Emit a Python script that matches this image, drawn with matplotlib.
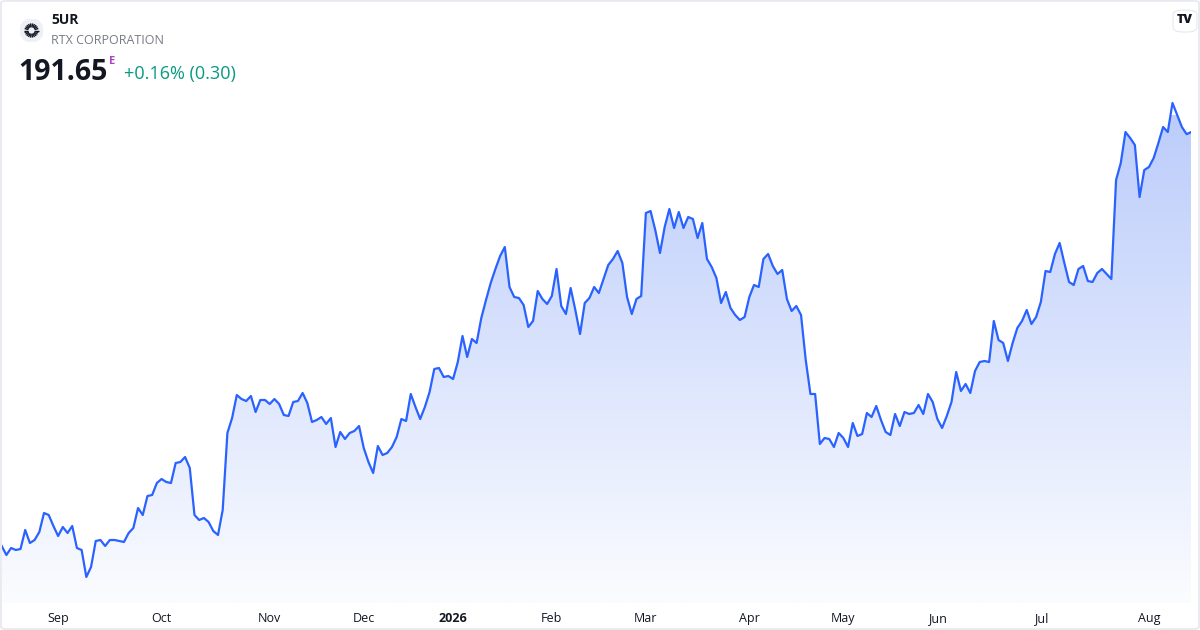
### Module Import Section ###
import numpy as np
import pandas as pd
import matplotlib
matplotlib.use('Agg')
import matplotlib.pyplot as plt
from matplotlib.colors import LinearSegmentedColormap
from matplotlib.patches import Polygon, Circle, FancyBboxPatch
#############################

plt.rcParams['font.family'] = ['Open Sans', 'DejaVu Sans']

# header texts
ticker = '5UR'
company = 'RTX CORPORATION'
last_price = '191.65'
change_text = '+0.16% (0.30)'

# Xetra holidays inside the window (no trading)
holidays = ['2025-12-24', '2025-12-25', '2025-12-26', '2025-12-31',
            '2026-01-01', '2026-04-03', '2026-04-06', '2026-05-01']

# daily closes, EUR
prices = [
    133.69, 132.43, 133.41, 133.13, 133.27, 135.93, 134.11, 134.53, 135.65, 138.31,
    138.03, 136.49, 135.09, 136.35, 135.51, 136.49, 133.41, 133.13, 129.35, 130.75,
    134.39, 134.53, 133.69, 134.53, 134.53, 134.39, 134.25, 135.51, 136.21, 139.01,
    138.03, 140.69, 140.83, 142.51, 143.07, 142.65, 142.51, 145.31, 145.45, 146.15,
    144.61, 138.03, 137.33, 137.61, 137.05, 135.79, 135.23, 138.73, 149.51, 151.61,
    154.83, 154.27, 153.99, 154.69, 152.45, 154.13, 154.13, 153.57, 154.27, 153.57,
    152.03, 151.89, 153.85, 153.99, 155.11, 153.71, 151.05, 151.33, 151.75, 150.77,
    151.61, 147.55, 149.65, 148.67, 149.51, 149.79, 150.49, 147.41, 145.45, 143.91,
    147.69, 146.43, 146.71, 147.55, 148.95, 151.47, 151.19, 154.97, 153.15, 151.47,
    153.15, 155.25, 158.47, 158.61, 157.35, 157.49, 157.07, 159.45, 163.09, 160.15,
    162.67, 162.11, 165.61, 168.13, 170.51, 172.47, 174.29, 175.55, 169.95, 168.55,
    168.41, 167.43, 164.35, 165.19, 169.39, 168.27, 167.57, 168.69, 172.47, 167.29,
    166.17, 169.81, 166.73, 163.37, 167.71, 168.41, 169.95, 169.11, 171.07, 173.03,
    173.87, 174.99, 173.31, 168.55, 166.17, 168.27, 168.69, 180.31, 180.59, 177.93,
    174.71, 178.35, 180.87, 178.21, 180.45, 178.21, 179.75, 179.47, 176.81, 178.91,
    173.87, 172.75, 171.21, 167.71, 169.25, 167.01, 166.03, 165.33, 165.75, 168.55,
    170.23, 169.95, 173.87, 174.57, 172.89, 171.77, 172.33, 168.27, 166.59, 167.29,
    166.03, 159.73, 154.97, 154.97, 147.97, 148.81, 148.67, 147.55, 149.51, 148.81,
    147.55, 150.91, 149.09, 149.37, 152.31, 151.75, 153.29, 151.33, 149.65, 149.23,
    152.17, 150.49, 152.45, 152.17, 152.31, 153.43, 152.17, 154.97, 153.85, 151.47,
    150.21, 151.89, 153.85, 158.05, 155.39, 156.37, 155.11, 158.19, 159.45, 159.59,
    159.45, 165.19, 162.53, 162.11, 159.59, 162.11, 164.21, 165.19, 166.73, 164.77,
    165.75, 167.85, 172.19, 172.05, 174.57, 176.11, 173.31, 170.65, 170.23, 172.47,
    172.89, 170.79, 170.65, 171.91, 172.47, 171.77, 171.07, 184.93, 187.31, 191.65,
    190.81, 189.83, 182.55, 186.33, 186.75, 188.01, 190.11, 192.35, 191.65, 195.71,
    194.03, 192.35, 191.35, 191.65,
]

dates = pd.bdate_range('2025-08-14', '2026-08-14', freq='C', holidays=holidays)
n = min(len(dates), len(prices))
dates = dates[:n]
prices = np.array(prices[:n])
idx = np.arange(n)

W, H = 1200, 630
fig = plt.figure(figsize=(12, 6.3), dpi=100)
fig.patch.set_facecolor('white')

def fx(x):
    return x / W

def fy(y):
    return 1 - y / H

# plot area in pixels: x 1.7..1191.3, y 95..603
ax = fig.add_axes([fx(1.7), fy(603), fx(1191.3 - 1.7), (603 - 95) / H])
ylo, yhi = 125.71, 196.83

# gradient under the line, clipped to the area
grad = np.linspace(0, 1, 256).reshape(-1, 1)
cmap = LinearSegmentedColormap.from_list('area', ['#bccdfb', '#dbe4fd', '#fbfcff'])
im = ax.imshow(grad, aspect='auto', cmap=cmap, origin='upper',
               extent=[0, n - 1, ylo, 194.0], zorder=1)
verts = [(0, ylo)] + list(zip(idx, prices)) + [(n - 1, ylo)]
clip = Polygon(verts, closed=True, facecolor='none', edgecolor='none')
ax.add_patch(clip)
im.set_clip_path(clip)

ax.plot(idx, prices, color='#2962ff', lw=1.6, solid_joinstyle='round', zorder=3)

ax.set_xlim(0, n - 1)
ax.set_ylim(ylo, yhi)
for s in ax.spines.values():
    s.set_visible(False)
ax.set_yticks([])

# month ticks at the first trading day of each month
tick_pos = []
tick_lab = []
for i in range(1, n):
    if dates[i].month != dates[i - 1].month:
        tick_pos.append(i)
        tick_lab.append(str(dates[i].year) if dates[i].month == 1 else dates[i].strftime('%b'))
ax.set_xticks(tick_pos)
ax.set_xticklabels(tick_lab, fontsize=9, color='#131722')
ax.tick_params(axis='x', length=0, pad=6.8)
for t in ax.get_xticklabels():
    if t.get_text().isdigit():
        t.set_fontweight('bold')

# header
fig.text(fx(51), fy(20), ticker, fontsize=10, fontweight='bold', color='#131722', va='center')
fig.text(fx(51), fy(40), company, fontsize=9, color='#787b86', va='center')
fig.text(fx(18), fy(72), last_price, fontsize=20.5, fontweight='bold', color='#131722', va='center')
fig.text(fx(109), fy(62), 'E', fontsize=8, fontweight='bold', color='#ab47bc', va='center')
fig.text(fx(124), fy(74), change_text, fontsize=13, color='#089981', va='center')

# logo
lax = fig.add_axes([fx(20), fy(42), fx(23), 23 / H])
lax.set_xlim(-1, 1)
lax.set_ylim(-1, 1)
lax.set_aspect('equal')
lax.axis('off')
lax.add_patch(Circle((0, 0), 1, color='#eef0f6'))
for a in np.linspace(0, 2 * np.pi, 22, endpoint=False):
    lax.plot([0.28 * np.cos(a), 0.62 * np.cos(a)], [0.28 * np.sin(a), 0.62 * np.sin(a)],
             color='#131722', lw=1.0, solid_capstyle='butt')

# TradingView badge
badge = FancyBboxPatch((fx(1173), fy(32)), fx(24), 22 / H,
                       boxstyle='round,pad=0.0,rounding_size=0.008',
                       transform=fig.transFigure, facecolor='white',
                       edgecolor='#e6e8ee', lw=0.8, zorder=5)
fig.add_artist(badge)
fig.text(fx(1185), fy(20), 'TV', fontsize=9, fontweight='heavy', color='#131722',
         ha='center', va='center', zorder=6)

# outer border
border = FancyBboxPatch((0.0008, 0.0015), 0.9984, 0.997,
                        boxstyle='round,pad=0.0,rounding_size=0.004',
                        transform=fig.transFigure, facecolor='none',
                        edgecolor='#e0e3eb', lw=1.0)
fig.add_artist(border)

fig.savefig('out.png', dpi=100, facecolor='white')
